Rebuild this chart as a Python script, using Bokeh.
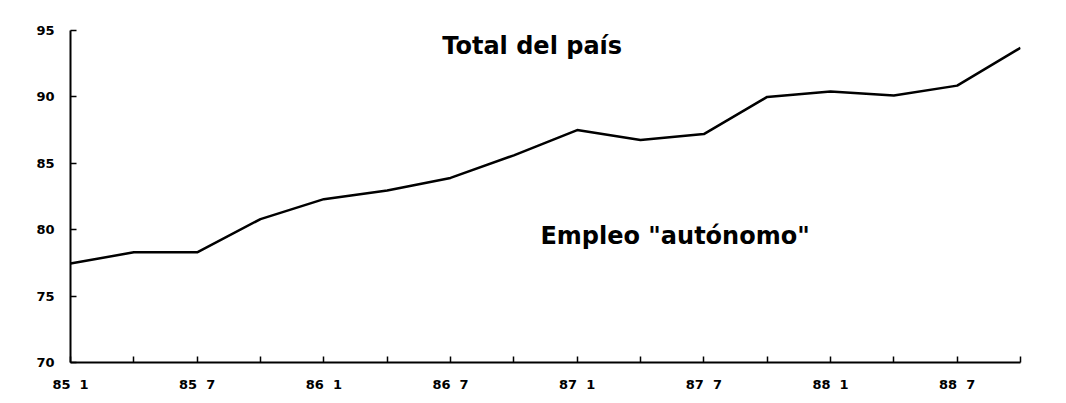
from bokeh.plotting import figure
from bokeh.models import Range1d, FixedTicker, Label, BoxAnnotation
from bokeh.embed import file_html
from bokeh.resources import INLINE

# Quarterly index, 1985 Q1 .. 1988 Q4
quarters = ["85 1", "85 4", "85 7", "85 10", "86 1", "86 4", "86 7", "86 10",
            "87 1", "87 4", "87 7", "87 10", "88 1", "88 4", "88 7", "88 10"]
tick_labels = ["85\u00a0\u00a01", "", "85\u00a0\u00a07", "", "86\u00a0\u00a01", "", "86\u00a0\u00a07", "",
               "87\u00a0\u00a01", "", "87\u00a0\u00a07", "", "88\u00a0\u00a01", "", "88\u00a0\u00a07", ""]
empleo = [77.45, 78.3, 78.3, 80.8, 82.3, 82.95, 83.9, 85.6,
          87.5, 86.75, 87.2, 90.0, 90.4, 90.1, 90.85, 93.7]
y_ticks = [70, 75, 80, 85, 90, 95]

x = list(range(len(quarters)))

p = figure(width=1050, height=395, output_backend="svg", toolbar_location=None,
           x_range=Range1d(0, len(quarters) - 1), y_range=Range1d(70, 95),
           min_border_left=70, min_border_right=30, min_border_top=30,
           min_border_bottom=33)
p.outline_line_color = None
p.xgrid.grid_line_color = None
p.ygrid.grid_line_color = None
p.background_fill_color = "white"
p.border_fill_color = "white"

frame_box = BoxAnnotation(left=8, right=1065, top=7, bottom=420,
                          left_units="canvas", right_units="canvas",
                          top_units="canvas", bottom_units="canvas",
                          fill_color=None, line_color="black", line_width=2)
p.add_layout(frame_box)

p.line(x, empleo, line_color="black", line_width=2.5)

p.xaxis.ticker = FixedTicker(ticks=x)
p.xaxis.major_label_overrides = {i: t for i, t in zip(x, tick_labels)}
p.yaxis.ticker = FixedTicker(ticks=y_ticks)

for ax in (p.xaxis[0], p.yaxis[0]):
    ax.axis_line_color = "black"
    ax.axis_line_width = 2
    ax.major_tick_line_color = "black"
    ax.major_tick_line_width = 1.5
    ax.major_tick_in = 6
    ax.major_tick_out = 0
    ax.minor_tick_line_color = None
    ax.major_label_text_font = "DejaVu Sans"
    ax.major_label_text_font_style = "bold"
    ax.major_label_text_font_size = "13px"
    ax.major_label_text_color = "black"
p.xaxis.major_label_standoff = 14
p.yaxis.major_label_standoff = 16

t1 = Label(x=5.87, y=93.87, text="Total del país", text_font="DejaVu Sans",
           text_font_style="bold", text_font_size="24px", text_color="black",
           text_baseline="alphabetic")
t2 = Label(x=7.42, y=79.56, text='Empleo "autónomo"', text_font="DejaVu Sans",
           text_font_style="bold", text_font_size="24px", text_color="black",
           text_baseline="alphabetic")
p.add_layout(t1)
p.add_layout(t2)

open("out.html", "w").write(file_html(p, INLINE))
